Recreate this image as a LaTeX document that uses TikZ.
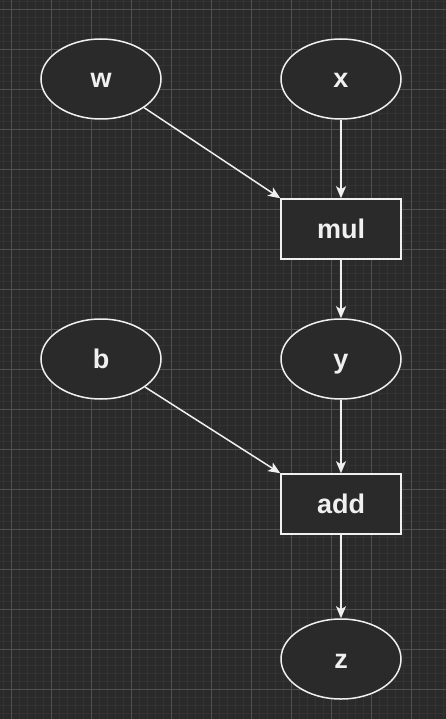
\documentclass[tikz,border=0pt]{standalone}
\usepackage{fontspec}
\setmainfont{Liberation Sans}
\usetikzlibrary{shapes.geometric,arrows.meta}
\definecolor{bg}{HTML}{2A2A2A}
\definecolor{minor}{HTML}{333333}
\definecolor{major}{HTML}{505050}
\definecolor{fg}{HTML}{F0F0F0}
\begin{document}
\begin{tikzpicture}[x=1pt,y=-1pt,
  lbl/.style={text=fg,font=\fontsize{27}{30}\selectfont\bfseries,text height=18pt,text depth=0pt},
  vnode/.style={ellipse,draw=fg,line width=1.5pt,fill=bg,minimum width=120pt,minimum height=80pt,inner sep=0pt,lbl},
  opnode/.style={rectangle,draw=fg,line width=1.5pt,fill=bg,minimum width=120pt,minimum height=60pt,inner sep=0pt,lbl},
  edge/.style={draw=fg,line width=1.5pt,-{Stealth[length=12pt,width=10pt,inset=3pt]}}]
\fill[bg] (0,0) rectangle (446,719);
\useasboundingbox (0,0) rectangle (446,719);
\foreach \i in {0,...,56} {\draw[minor,line width=0.6pt] ({3+8*\i},0) -- ({3+8*\i},719);}
\foreach \i in {0,...,90} {\draw[minor,line width=0.6pt] (0,{1+8*\i}) -- (446,{1+8*\i});}
\foreach \i in {0,...,11} {\draw[major,line width=0.8pt] ({11+40*\i},0) -- ({11+40*\i},719);}
\foreach \i in {0,...,17} {\draw[major,line width=0.8pt] (0,{9+40*\i}) -- (446,{9+40*\i});}
\node[vnode] (w) at (101,79) {w};
\node[vnode] (x) at (341,79) {x};
\node[opnode] (mul) at (341,229) {mul};
\node[vnode] (b) at (101,359) {b};
\node[vnode] (y) at (341,359) {y};
\node[opnode] (add) at (341,504) {add};
\node[vnode] (z) at (341,659) {z};
\draw[edge] (w) -- (mul.north west);
\draw[edge] (x) -- (mul);
\draw[edge] (mul) -- (y);
\draw[edge] (b) -- (add.north west);
\draw[edge] (y) -- (add);
\draw[edge] (add) -- (z);
\end{tikzpicture}
\end{document}
